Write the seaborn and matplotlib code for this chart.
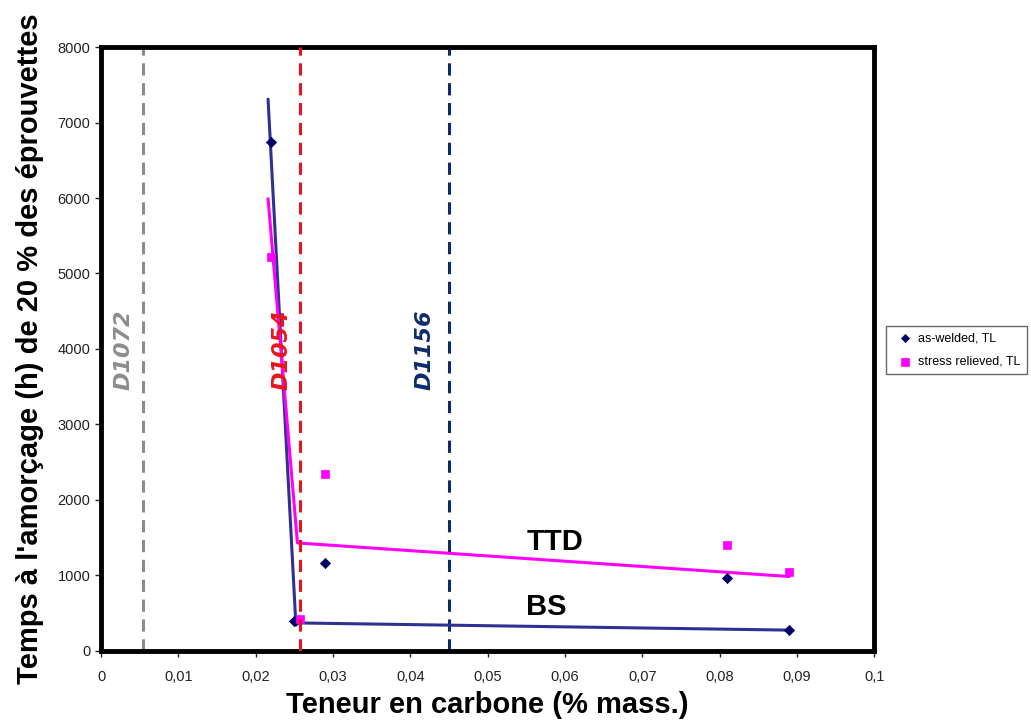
import matplotlib
matplotlib.use("Agg")
import numpy as np
import pandas as pd
import seaborn as sns
import matplotlib.pyplot as plt
from matplotlib.ticker import FuncFormatter

# measured points
aw_c = [0.022, 0.025, 0.029, 0.081, 0.089]
aw_t = [6740, 390, 1160, 970, 270]
sr_c = [0.022, 0.0257, 0.029, 0.081, 0.089]
sr_t = [5220, 420, 2340, 1400, 1040]

# hand-drawn trend lines
bs_c = [0.0216, 0.0252, 0.0255, 0.089]
bs_t = [7310, 340, 370, 275]
ttd_c = [0.0216, 0.0254, 0.089]
ttd_t = [5990, 1430, 985]

# reference grades
ref_names = ["D1072", "D1054", "D1156"]
ref_c = [0.0054, 0.0257, 0.045]
ref_colors = ["#8c8c8c", "#e8141c", "#0d2a6b"]
ref_label_c = [0.00285, 0.0233, 0.0418]


def fmt_x(v, pos):
    if abs(v) < 1e-9:
        return "0"
    if round(v * 100) % 10:
        return f"{v:.2f}".replace(".", ",")
    return f"{v:.1f}".replace(".", ",")


sns.set_theme(style="white")
plt.rcParams["font.family"] = ["Liberation Sans", "DejaVu Sans"]
plt.rcParams["text.color"] = "black"
plt.rcParams["axes.labelcolor"] = "black"

fig = plt.figure(figsize=(10.31, 7.24), dpi=100)
ax = fig.add_axes([0.098, 0.101, 0.750, 0.834])

for name, c, col in zip(ref_names, ref_c, ref_colors):
    ax.axvline(c, color=col, ls=(0, (4, 2.5)), lw=2.2, zorder=4 if name == "D1054" else 1)

sns.lineplot(x=bs_c, y=bs_t, ax=ax, color="#2e3192", lw=2.2, sort=False, zorder=2)
sns.lineplot(x=ttd_c, y=ttd_t, ax=ax, color="#ff00ff", lw=2.2, sort=False, zorder=2)

sns.scatterplot(x=aw_c, y=aw_t, ax=ax, marker="D", s=28, color="#000066",
                edgecolor="#000066", label="as-welded, TL", zorder=3)
sns.scatterplot(x=sr_c, y=sr_t, ax=ax, marker="s", s=40, color="#ff00ff",
                edgecolor="#ff00ff", label="stress relieved, TL", zorder=3)

for name, c, col in zip(ref_names, ref_label_c, ref_colors):
    ax.text(c, 3990, name, rotation=90, color=col, fontsize=16, fontweight="bold",
            fontstyle="italic", ha="center", va="center", family=["DejaVu Sans"])

ax.text(0.0587, 1444, "TTD", fontsize=21, fontweight="bold", ha="center", va="center")
ax.text(0.0576, 583, "BS", fontsize=21, fontweight="bold", ha="center", va="center")

ax.set_xlim(0, 0.1)
ax.set_ylim(0, 8000)
ax.set_xticks(np.arange(0, 0.101, 0.01))
ax.set_yticks(np.arange(0, 8001, 1000))
ax.xaxis.set_major_formatter(FuncFormatter(fmt_x))
ax.tick_params(axis="both", labelsize=10.5, colors="#222222", length=4, width=1, direction="out",
               bottom=True, left=True)
ax.tick_params(axis="x", pad=10)
for s in ax.spines.values():
    s.set_linewidth(3.5)
    s.set_color("black")

ax.set_xlabel("Teneur en carbone (% mass.)", fontsize=21, fontweight="bold", labelpad=5)
ax.set_ylabel("Temps à l'amorçage (h) de 20 % des éprouvettes", fontsize=21,
              fontweight="bold", labelpad=10)

leg = ax.legend(loc="center left", bbox_to_anchor=(1.01, 0.498), fontsize=9,
                frameon=True, fancybox=False, edgecolor="#444444", handletextpad=0.1,
                borderpad=0.5, labelspacing=0.9, markerscale=0.8, borderaxespad=0.3)
leg.get_frame().set_linewidth(1)

fig.savefig("out.png", dpi=100)
